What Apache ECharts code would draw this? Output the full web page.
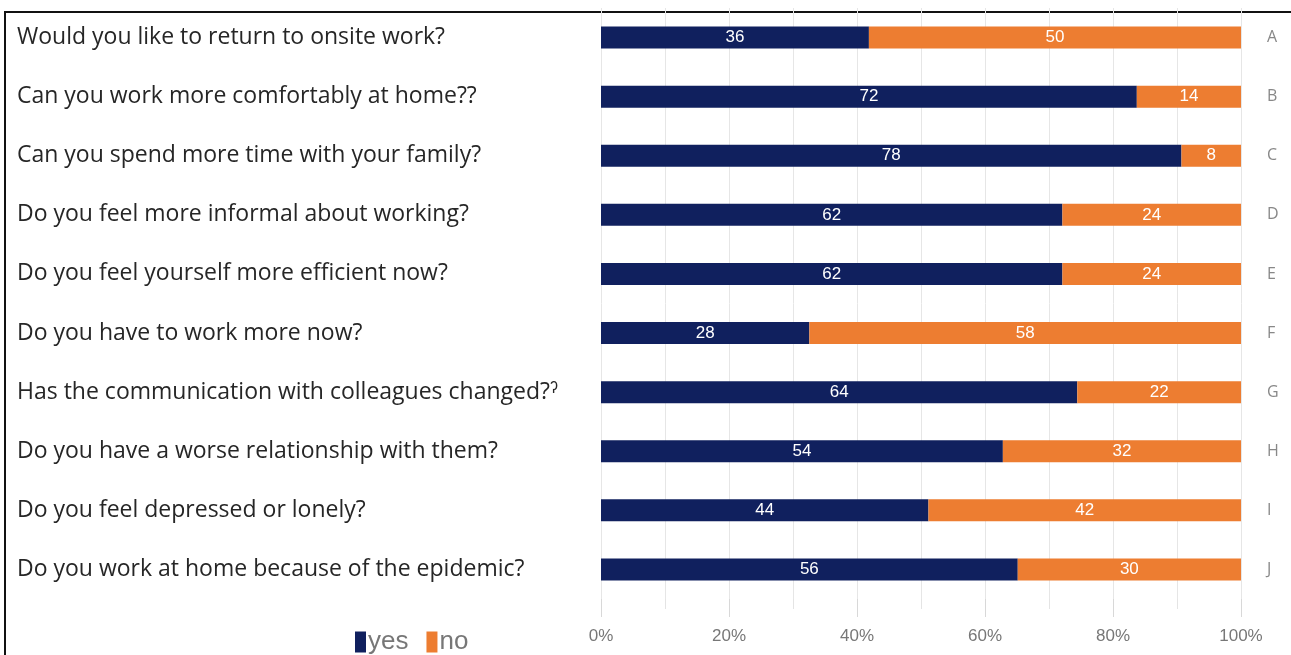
<!DOCTYPE html>
<html>
<head>
<meta charset="utf-8">
<script src="https://cdn.jsdelivr.net/npm/echarts@6/dist/echarts.min.js"></script>
<style>
    html, body { margin: 0; padding: 0; background: #fff; }
    #frame {
        position: absolute;
        left: 4px; top: 11px;
        width: 1300px; height: 660px;
        border-top: 2px solid #111;
        border-left: 2px solid #111;
    }
    #chart { position: absolute; left: 0; top: 0; width: 1291px; height: 655px; }
</style>
</head>
<body>
<div id="frame"></div>
<div id="chart"></div>
<script>
// questions, top to bottom
var questions = [
    'Would you like to return to onsite work?',
    'Can you work more comfortably at home??',
    'Can you spend more time with your family?',
    'Do you feel more informal about working?',
    'Do you feel yourself more efficient now?',
    'Do you have to work more now?',
    'Has the communication with colleagues changed?\u02C0',
    'Do you have a worse relationship with them?',
    'Do you feel depressed or lonely?',
    'Do you work at home because of the epidemic?'
];
var letters = ['A', 'B', 'C', 'D', 'E', 'F', 'G', 'H', 'I', 'J'];
var yes = [36, 72, 78, 62, 62, 28, 64, 54, 44, 56];
var no = [50, 14, 8, 24, 24, 58, 22, 32, 42, 30];
var xTicks = [0, 20, 40, 60, 80, 100];

// 100% stacked: share of each answer, label keeps the raw count
function share(arr, i) {
    return arr[i] / (yes[i] + no[i]) * 100;
}
var yesData = yes.map(function (v, i) { return { value: share(yes, i), raw: v }; });
var noData = no.map(function (v, i) { return { value: share(no, i), raw: v }; });

var narrow = '"Liberation Sans Narrow", "Liberation Sans", sans-serif';
var myChart = echarts.init(document.getElementById('chart'));
var labelStyle = {
    show: true,
    position: 'inside',
    color: '#fff',
    fontFamily: narrow,
    fontSize: 17,
    formatter: function (p) { return p.data.raw; }
};
var option = {
    animation: false,
    legend: {
        left: 350,
        top: 624,
        itemWidth: 11,
        itemHeight: 21,
        itemGap: 18,
        icon: 'rect',
        textStyle: {
            color: '#777',
            fontSize: 26,
            fontFamily: narrow,
            padding: [0, 0, 0, -3]
        },
        data: ['yes', 'no']
    },
    grid: {
        top: 8,
        bottom: 56,
        left: 601,
        right: 50
    },
    xAxis: {
        type: 'value',
        min: xTicks[0],
        max: xTicks[xTicks.length - 1],
        interval: 20,
        axisLine: { show: false },
        axisTick: {
            show: true,
            length: 18,
            lineStyle: { color: '#d8d8d8' }
        },
        minorTick: { show: true, splitNumber: 2, length: 10, lineStyle: { color: '#e4e4e4' } },
        splitLine: { show: true, lineStyle: { color: '#e6e6e6' } },
        minorSplitLine: { show: true, lineStyle: { color: '#e6e6e6' } },
        axisLabel: {
            margin: 29,
            color: '#777',
            fontSize: 17,
            fontFamily: narrow,
            formatter: '{value}%'
        }
    },
    yAxis: [{
        type: 'category',
        inverse: true,
        data: questions,
        axisLine: { show: false },
        axisTick: { show: false },
        axisLabel: {
            align: 'left',
            margin: 584,
            color: '#262626',
            fontSize: 23,
            fontFamily: '"Open Sans", sans-serif'
        }
    }, {
        type: 'category',
        inverse: true,
        position: 'right',
        data: letters,
        axisLine: { show: false },
        axisTick: { show: false },
        axisLabel: {
            margin: 26,
            color: '#888',
            fontSize: 16,
            fontFamily: '"Open Sans", sans-serif'
        }
    }],
    series: [{
        name: 'yes',
        type: 'bar',
        stack: 'total',
        barWidth: 22,
        itemStyle: { color: '#10205e' },
        label: labelStyle,
        data: yesData
    }, {
        name: 'no',
        type: 'bar',
        stack: 'total',
        barWidth: 22,
        itemStyle: { color: '#ed7d31' },
        label: labelStyle,
        data: noData
    }]
};
myChart.setOption(option);
</script>
</body>
</html>
